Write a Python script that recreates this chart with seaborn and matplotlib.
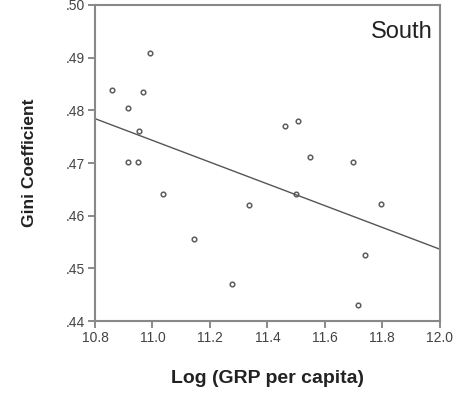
import numpy as np
import pandas as pd
import seaborn as sns
import matplotlib
matplotlib.use("Agg")
import matplotlib.pyplot as plt
from matplotlib.ticker import FuncFormatter

# Regional observations: log GRP per capita vs. Gini coefficient
log_grp = [10.992, 10.858, 10.966, 10.916, 10.953, 10.914, 10.950, 11.038,
           11.143, 11.335, 11.277, 11.461, 11.505, 11.548, 11.699, 11.498,
           11.794, 11.740, 11.716]
gini = [0.4909, 0.4838, 0.4835, 0.4804, 0.4761, 0.4701, 0.4701, 0.4642,
        0.4556, 0.4620, 0.4471, 0.4770, 0.4780, 0.4712, 0.4701, 0.4642,
        0.4622, 0.4526, 0.4430]
x_ticks = [10.8, 11.0, 11.2, 11.4, 11.6, 11.8, 12.0]
y_ticks = [0.44, 0.45, 0.46, 0.47, 0.48, 0.49, 0.50]
panel_label = "South"

df = pd.DataFrame({"log_grp": log_grp, "gini": gini})

sns.set_theme(style="white")
plt.rcParams["font.family"] = ["Liberation Sans", "DejaVu Sans"]

fig = plt.figure(figsize=(4.61, 4.01), dpi=100)
ax = fig.add_axes([0.206, 0.199, 0.748, 0.789])

# fix the range first so the fitted line spans the full x axis
ax.set_xlim(10.8, 12.0)
ax.set_ylim(0.44, 0.50)

sns.regplot(data=df, x="log_grp", y="gini", ci=None, truncate=False, ax=ax,
            scatter_kws=dict(s=11, facecolors="white", edgecolors="#333333",
                             linewidths=1.1),
            line_kws=dict(color="#555555", lw=1.0))

ax.set_xlim(10.8, 12.0)
ax.set_ylim(0.44, 0.50)
ax.set_xticks(x_ticks)
ax.set_yticks(y_ticks)
ax.xaxis.set_major_formatter(FuncFormatter(lambda v, p: f"{v:.1f}"))
ax.yaxis.set_major_formatter(FuncFormatter(lambda v, p: f"{v:.2f}".lstrip("0")))

ax.tick_params(axis="both", which="major", direction="out", length=5,
               width=1.2, color="#777777", labelsize=10, labelcolor="#444444",
               pad=2)
ax.tick_params(top=False, right=False, bottom=True, left=True)
for s in ax.spines.values():
    s.set_color("#888888")
    s.set_linewidth(1.5)

ax.set_xlabel("Log (GRP per capita)", fontsize=14, fontweight="bold",
              color="#222222", labelpad=18)
ax.set_ylabel("Gini Coefficient", fontsize=12.5, fontweight="bold",
              color="#222222", labelpad=21)

ax.text(0.98, 0.948, panel_label, transform=ax.transAxes, ha="right", va="top",
        fontsize=17, color="#222222")

fig.savefig("out.png", dpi=100)
